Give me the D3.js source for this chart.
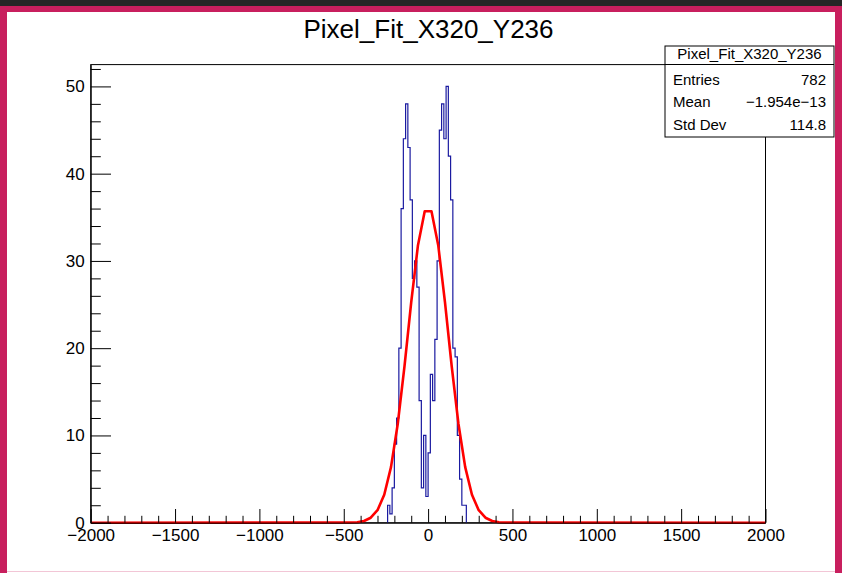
<!DOCTYPE html>
<html><head><meta charset="utf-8">
<script src="https://cdn.jsdelivr.net/npm/d3@7"></script>
<style>
body{margin:0;background:#fff;overflow:hidden}
text{font-family:"Liberation Sans",Arial,Helvetica,sans-serif;fill:#000}
</style>
</head><body><svg id="c" width="842" height="573"></svg>
<script>
// ---- data ----
const chartTitle = "Pixel_Fit_X320_Y236";
const xDomain = [-2000, 2000];
const yDomain = [0, 52.5];
const xMajorTicks = [-2000, -1500, -1000, -500, 0, 500, 1000, 1500, 2000];
const yMajorTicks = [0, 10, 20, 30, 40, 50];
const binStart = -240;
const binWidth = 13.3333;
const binCounts = [2, 1, 4, 9, 12, 20, 36, 44, 48, 43, 37, 28, 30, 27, 14, 4, 10, 3, 8, 17,
                   14, 21, 30, 45, 48, 44, 50, 42, 37, 20, 19, 10, 5, 2, 2];
const fitX = [-2000, -460, -420, -380, -340, -300, -260, -220, -180, -140, -100, -60, -20,
              20, 60, 100, 140, 180, 220, 260, 300, 340, 380, 420, 460, 2000];
const fitY = [0, 0.02, 0.06, 0.20, 0.57, 1.43, 3.20, 6.37, 11.31, 17.91, 25.28, 31.81, 35.7,
              35.7, 31.81, 25.28, 17.91, 11.31, 6.37, 3.20, 1.43, 0.57, 0.20, 0.06, 0.02, 0];
const statsName = "Pixel_Fit_X320_Y236";
const statsLabels = ["Entries", "Mean", "Std Dev"];
const statsValues = ["782", "\u22121.954e\u221213", "114.8"];

// ---- layout ----
const W = 842, H = 573;
const frame = {l: 90.7, r: 765.5, t: 64.6, b: 522.7};
const svg = d3.select("#c");

// window border
svg.append("rect").attr("x", 0).attr("y", 0).attr("width", W).attr("height", H).attr("fill", "#262626");
svg.append("rect").attr("x", 0).attr("y", 6).attr("width", W).attr("height", H - 6).attr("fill", "#c81f5e");
svg.append("rect").attr("x", 7).attr("y", 12).attr("width", W - 14).attr("height", H - 12).attr("fill", "#ffffff");
svg.append("line").attr("x1", 7).attr("x2", W - 7).attr("y1", 571.5).attr("y2", 571.5).attr("stroke", "#f2c6d6").attr("stroke-width", 1);

const x = d3.scaleLinear().domain(xDomain).range([frame.l, frame.r]);
const y = d3.scaleLinear().domain(yDomain).range([frame.b, frame.t]);

svg.append("defs").append("clipPath").attr("id", "fc").append("rect")
  .attr("x", frame.l).attr("y", frame.t).attr("width", frame.r - frame.l).attr("height", frame.b - frame.t + 3);

// frame
svg.append("rect").attr("x", frame.l).attr("y", frame.t).attr("width", frame.r - frame.l).attr("height", frame.b - frame.t)
  .attr("fill", "none").attr("stroke", "#000").attr("stroke-width", 1);

// histogram
const hpts = [[binStart, 0]];
binCounts.forEach((c, i) => {
  hpts.push([binStart + i * binWidth, c]);
  hpts.push([binStart + (i + 1) * binWidth, c]);
});
hpts.push([binStart + binCounts.length * binWidth, 0]);
const line = d3.line().x(d => x(d[0])).y(d => y(d[1]));
svg.append("path").attr("d", line(hpts)).attr("fill", "none").attr("stroke", "#1a1aa0").attr("stroke-width", 1.2)
  .attr("clip-path", "url(#fc)");

// fit
const fitPts = fitX.map((v, i) => [v, fitY[i]]);
svg.append("path").attr("d", line(fitPts)).attr("fill", "none").attr("stroke", "#ff0000").attr("stroke-width", 2.6)
  .attr("stroke-linejoin", "round").attr("clip-path", "url(#fc)");

// axes
const fmt = d => d < 0 ? "\u2212" + Math.abs(d) : String(d);
const xMinor = d3.range(xDomain[0], xDomain[1] + 1, 100).filter(v => v % 500 !== 0);
const yMinor = d3.range(0, 52.5, 2).filter(v => v % 10 !== 0);

const gx = svg.append("g").attr("transform", `translate(0,${frame.b})`)
  .call(d3.axisBottom(x).tickValues(xMajorTicks).tickSize(-13.7).tickSizeOuter(0).tickPadding(6).tickFormat(fmt));
const gxm = svg.append("g").attr("transform", `translate(0,${frame.b})`)
  .call(d3.axisBottom(x).tickValues(xMinor).tickSize(-6.9).tickSizeOuter(0).tickFormat(""));
gxm.select(".domain").remove();
const gy = svg.append("g").attr("transform", `translate(${frame.l},0)`)
  .call(d3.axisLeft(y).tickValues(yMajorTicks).tickSize(-20.3).tickSizeOuter(0).tickPadding(6).tickFormat(fmt));
const gym = svg.append("g").attr("transform", `translate(${frame.l},0)`)
  .call(d3.axisLeft(y).tickValues(yMinor).tickSize(-10.1).tickSizeOuter(0).tickFormat(""));
gym.select(".domain").remove();
svg.selectAll(".tick line, .domain").attr("stroke", "#000").attr("stroke-width", 1);
svg.selectAll(".tick text").attr("font-size", 17).attr("font-family", "'Liberation Sans',Arial,sans-serif").attr("fill", "#000");

// title
svg.append("text").attr("x", 428.5).attr("y", 38).attr("text-anchor", "middle").attr("font-size", 26).text(chartTitle);

// stats box
const sb = {x: 665, y: 46, w: 169, h: 91};
svg.append("rect").attr("x", sb.x).attr("y", sb.y).attr("width", sb.w).attr("height", sb.h)
  .attr("fill", "#fff").attr("stroke", "#000").attr("stroke-width", 1);
svg.append("line").attr("x1", sb.x).attr("x2", sb.x + sb.w).attr("y1", 64.5).attr("y2", 64.5).attr("stroke", "#000");
svg.append("text").attr("x", sb.x + sb.w / 2).attr("y", 58.5).attr("text-anchor", "middle").attr("font-size", 15).text(statsName);
const rowY = [85, 107, 130];
statsLabels.forEach((lab, i) => {
  svg.append("text").attr("x", 673).attr("y", rowY[i]).attr("font-size", 15).text(lab);
  svg.append("text").attr("x", 826).attr("y", rowY[i]).attr("text-anchor", "end").attr("font-size", 15).text(statsValues[i]);
});
</script>
</body></html>
